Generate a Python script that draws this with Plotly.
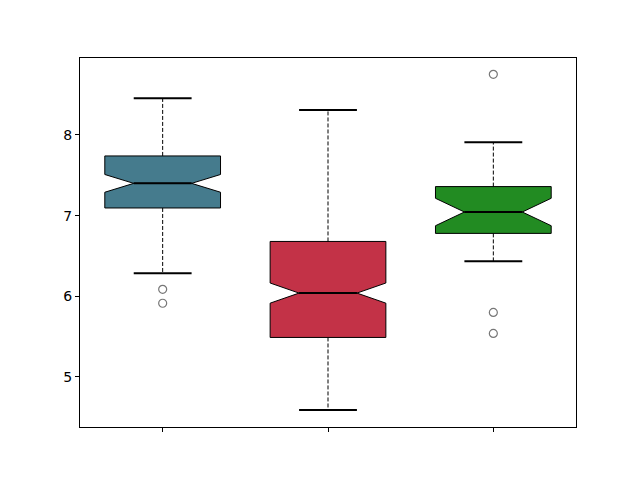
import plotly.graph_objects as go

positions = [1, 2, 3]
colors = ["#457b8d", "#c33247", "#228b22"]
q1 = [7.095, 5.49, 6.78]
median = [7.40, 6.04, 7.045]
q3 = [7.74, 6.68, 7.36]
notchspan = [0.11, 0.125, 0.17]
whisker_lo = [6.286, 4.59, 6.435]
whisker_hi = [8.455, 8.31, 7.91]
outliers = [[6.087, 5.914], [], [8.752, 5.80, 5.54]]

box_width = 0.7
half_cap = box_width / 4

fig = go.Figure()

for i, p in enumerate(positions):
    fig.add_trace(go.Box(
        x=[p], q1=[q1[i]], median=[median[i]], q3=[q3[i]],
        lowerfence=[q1[i]], upperfence=[q3[i]],
        notched=True, notchspan=[notchspan[i]], notchwidth=0.25,
        width=box_width, whiskerwidth=0,
        fillcolor=colors[i], line=dict(color="black", width=1),
        boxpoints=False, showlegend=False, hoverinfo="skip",
    ))
    # dashed whiskers
    fig.add_trace(go.Scatter(
        x=[p, p, None, p, p], y=[q3[i], whisker_hi[i], None, q1[i], whisker_lo[i]],
        mode="lines", line=dict(color="black", width=1, dash="4px,2px"),
        showlegend=False, hoverinfo="skip",
    ))
    # caps
    fig.add_trace(go.Scatter(
        x=[p - half_cap, p + half_cap, None, p - half_cap, p + half_cap],
        y=[whisker_hi[i], whisker_hi[i], None, whisker_lo[i], whisker_lo[i]],
        mode="lines", line=dict(color="black", width=2),
        showlegend=False, hoverinfo="skip",
    ))
    # median
    fig.add_trace(go.Scatter(
        x=[p - half_cap, p + half_cap], y=[median[i], median[i]],
        mode="lines", line=dict(color="black", width=2),
        showlegend=False, hoverinfo="skip",
    ))
    # outliers
    if outliers[i]:
        fig.add_trace(go.Scatter(
            x=[p] * len(outliers[i]), y=outliers[i], mode="markers",
            marker=dict(symbol="circle-open", size=8, color="#777777", line=dict(width=1.2)),
            showlegend=False, hoverinfo="skip",
        ))

fig.update_layout(
    width=640, height=480,
    margin=dict(l=72, r=72, t=50, b=61),
    plot_bgcolor="white", paper_bgcolor="white",
    boxmode="overlay",
    font=dict(family="DejaVu Sans", size=14, color="black"),
)
fig.update_xaxes(
    range=[0.5, 3.5], tickvals=positions, ticktext=["", "", ""],
    ticks="outside", ticklen=4, tickcolor="black",
    showline=True, linecolor="black", linewidth=1, mirror=True,
    showgrid=False, zeroline=False,
)
fig.update_yaxes(
    range=[4.38, 8.954], tickvals=[5, 6, 7, 8],
    ticks="outside", ticklen=4, tickcolor="black",
    showline=True, linecolor="black", linewidth=1, mirror=True,
    showgrid=False, zeroline=False,
)

fig.write_html("out.html")
